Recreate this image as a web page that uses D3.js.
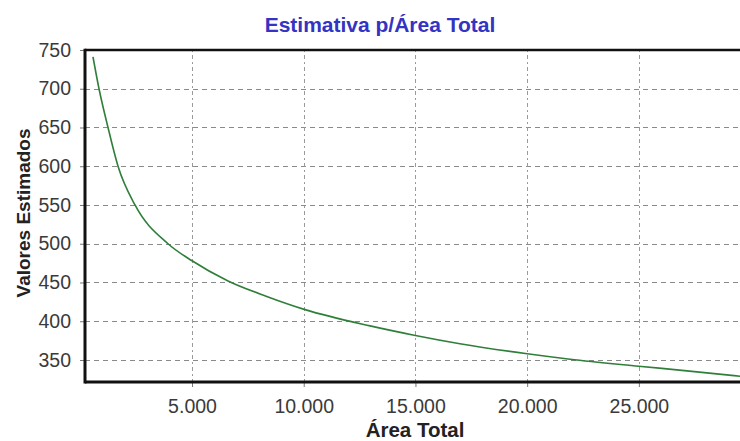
<!DOCTYPE html>
<html>
<head>
<meta charset="utf-8">
<script src="https://cdn.jsdelivr.net/npm/d3@7/dist/d3.min.js"></script>
<style>
  html, body { margin: 0; padding: 0; background: #ffffff; }
  svg { display: block; }
  text { font-family: "Liberation Sans", Arial, sans-serif; }
</style>
</head>
<body>
<svg id="chart" width="740" height="441"></svg>
<script>
// ---- data ----
const title = "Estimativa p/Área Total";
const xLabel = "Área Total";
const yLabel = "Valores Estimados";
const areaValues = [568, 837, 1240, 1688, 2448, 3926, 5000, 6612, 8344, 10060, 12970, 14940, 16990, 20000, 21920, 25000, 27150, 29530];
const estimatedValues = [741, 700, 650, 600, 550, 500, 478, 452, 432, 415, 394, 382, 371, 358, 351, 342, 336, 329];
const xTicks = [5000, 10000, 15000, 20000, 25000];
const yTicks = [350, 400, 450, 500, 550, 600, 650, 700, 750];

const data = areaValues.map((a, i) => ({ x: a, y: estimatedValues[i] }));

const svg = d3.select("#chart");
const W = 740, H = 441;
const m = { left: 85, top: 50, right: -5, bottom: 59 };
const plotR = W - m.right, plotB = H - m.bottom;

const x = d3.scaleLinear().domain([210, 29750]).range([m.left, plotR]);
const y = d3.scaleLinear().domain([321.6, 750]).range([plotB, m.top]);

const loc = d3.formatLocale({ decimal: ",", thousands: ".", grouping: [3], currency: ["", ""] });
const fmtX = loc.format(",d");

svg.append("rect").attr("width", W).attr("height", H).attr("fill", "#fff");

svg.append("defs").append("clipPath").attr("id", "plotclip")
  .append("rect").attr("x", m.left).attr("y", m.top)
  .attr("width", plotR - m.left).attr("height", plotB - m.top);

// grid
const g = svg.append("g");
g.selectAll("line.hg").data(yTicks.filter(v => v < 750)).join("line")
  .attr("x1", m.left).attr("x2", plotR)
  .attr("y1", d => Math.round(y(d)) + 0.5).attr("y2", d => Math.round(y(d)) + 0.5)
  .attr("stroke", "#8a8a8a").attr("stroke-width", 1).attr("stroke-dasharray", "5,4");
g.selectAll("line.vg").data(xTicks).join("line")
  .attr("y1", m.top).attr("y2", plotB)
  .attr("x1", d => Math.round(x(d)) + 0.5).attr("x2", d => Math.round(x(d)) + 0.5)
  .attr("stroke", "#9a9a9a").attr("stroke-width", 1).attr("stroke-dasharray", "2,3,4,3");

// line
svg.append("path").datum(data)
  .attr("clip-path", "url(#plotclip)")
  .attr("fill", "none").attr("stroke", "#2f7f3a").attr("stroke-width", 1.6)
  .attr("d", d3.line().x(d => x(d.x)).y(d => y(d.y)).curve(d3.curveMonotoneX));

// axes
const yAxis = d3.axisLeft(y).tickValues(yTicks).tickSize(4).tickPadding(9).tickFormat(d3.format("d"));
const ya = svg.append("g").attr("transform", `translate(${m.left - 1},0)`).call(yAxis);
ya.select(".domain").remove();
ya.selectAll(".tick line").attr("stroke", "#777");
ya.selectAll(".tick text").attr("fill", "#3a3a3a").style("font-size", "19.5px")
  .style("font-family", "'Liberation Sans', Arial, sans-serif");

const xAxis = d3.axisBottom(x).tickValues(xTicks).tickSize(4).tickPadding(12).tickFormat(fmtX);
const xa = svg.append("g").attr("transform", `translate(0,${plotB + 1})`).call(xAxis);
xa.select(".domain").remove();
xa.selectAll(".tick line").attr("stroke", "#777");
xa.selectAll(".tick text").attr("fill", "#3a3a3a").style("font-size", "19.5px")
  .style("font-family", "'Liberation Sans', Arial, sans-serif");

// frame borders
svg.append("line").attr("x1", m.left).attr("x2", plotR).attr("y1", m.top).attr("y2", m.top)
  .attr("stroke", "#111").attr("stroke-width", 2.5);
svg.append("line").attr("x1", m.left).attr("x2", plotR).attr("y1", plotB).attr("y2", plotB)
  .attr("stroke", "#111").attr("stroke-width", 3);
svg.append("line").attr("x1", m.left).attr("x2", m.left).attr("y1", m.top - 1.2).attr("y2", plotB + 1.5)
  .attr("stroke", "#111").attr("stroke-width", 3);

// titles
svg.append("text").attr("x", 380).attr("y", 32).attr("text-anchor", "middle")
  .attr("fill", "#3333c4").style("font-weight", "bold").style("font-size", "21px").text(title);
svg.append("text").attr("x", 415).attr("y", 437).attr("text-anchor", "middle")
  .attr("fill", "#222").style("font-weight", "bold").style("font-size", "20.5px").text(xLabel);
svg.append("text").attr("transform", "translate(30,213) rotate(-90)").attr("text-anchor", "middle")
  .attr("fill", "#222").style("font-weight", "bold").style("font-size", "19px").text(yLabel);
</script>
</body>
</html>
